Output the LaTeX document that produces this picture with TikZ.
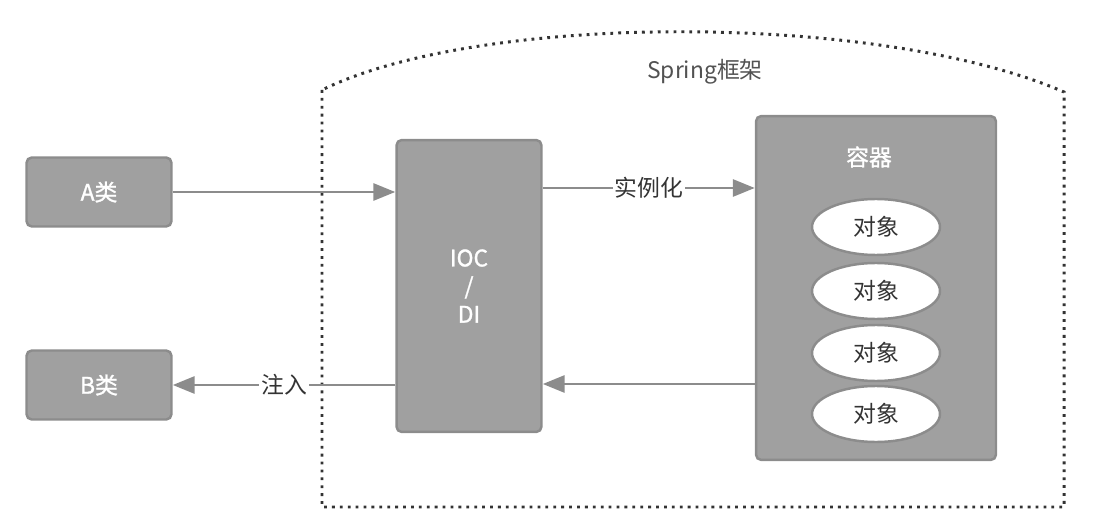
\documentclass[tikz,border=0pt]{standalone}
\usepackage{fontspec}
\setmainfont{Noto Sans CJK SC}
\newfontfamily\boldcjk[FakeBold=1.2]{Noto Sans CJK SC}
\usetikzlibrary{arrows.meta, shapes.geometric}
\definecolor{boxgray}{HTML}{A0A0A0}
\definecolor{edgegray}{HTML}{8C8C8C}
\definecolor{textgray}{HTML}{333333}

\begin{document}
\begin{tikzpicture}[x=0.02cm, y=-0.02cm,
    classbox/.style={draw=edgegray, line width=1.4pt, fill=boxgray, rounded corners=3pt, text=white, font=\boldcjk\fontsize{13}{15}\selectfont},
    objnode/.style={ellipse, draw=edgegray, line width=1.4pt, fill=white, minimum width=2.56cm, minimum height=1.12cm, text=textgray, font=\fontsize{13}{15}\selectfont},
    flow/.style={draw=edgegray, line width=1.7pt, -{Triangle[length=0.44cm, width=0.34cm]}},
    tag/.style={fill=white, inner sep=1pt, text=textgray, font=\fontsize{13}{15}\selectfont}]
    \useasboundingbox (0, 0) rectangle (1101, 523);

    % Spring frame
    \draw[textgray, line width=1.7pt, dash pattern=on 1.6pt off 2.9pt]
        (322, 90) -- (322, 507) -- (1064, 507) -- (1064, 92)
        .. controls (880, 12) and (480, 12) .. (322, 90);
    \node[text=textgray!85, font=\fontsize{13}{15}\selectfont] (title) at (705, 72) {Spring框架};

    % Classes
    \node[classbox, minimum width=2.9cm, minimum height=1.38cm] (a) at (99, 192) {A类};
    \node[classbox, minimum width=2.9cm, minimum height=1.38cm] (b) at (99, 385) {B类};

    % IOC / DI
    \node[classbox, minimum width=2.9cm, minimum height=5.84cm, align=center] (ioc) at (469, 286) {IOC\\[1pt]/\\[1pt]DI};

    % Container with objects
    \node[classbox, minimum width=4.8cm, minimum height=6.88cm] (box) at (876, 288) {};
    \node[text=white, font=\boldcjk\fontsize{13}{15}\selectfont] (boxtitle) at (869, 157) {容器};
    \node[objnode] (obj1) at (876, 227) {对象};
    \node[objnode] (obj2) at (876, 291) {对象};
    \node[objnode] (obj3) at (876, 353) {对象};
    \node[objnode] (obj4) at (876, 414) {对象};

    % Arrows
    \draw[flow] (a.east) -- (a.east -| ioc.west);
    \draw[flow] (ioc.east |- 0, 188) -- node[tag] {实例化} (box.west |- 0, 188);
    \draw[flow] (box.west |- 0, 384) -- (ioc.east |- 0, 384);
    \draw[flow] (ioc.west |- b.east) -- node[tag] {注入} (b.east);
\end{tikzpicture}
\end{document}
